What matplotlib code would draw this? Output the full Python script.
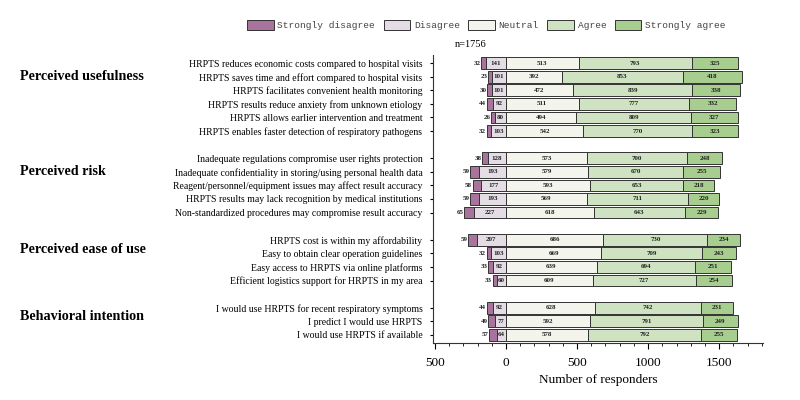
import numpy as np
import matplotlib
matplotlib.use("Agg")
from matplotlib import pyplot as plt
from matplotlib.ticker import MultipleLocator, FuncFormatter
from matplotlib.transforms import blended_transform_factory

# survey categories
groups = ["Perceived usefulness", "Perceived risk", "Perceived ease of use", "Behavioral intention"]
items = [
    ["HRPTS reduces economic costs compared to hospital visits",
     "HRPTS saves time and effort compared to hospital visits",
     "HRPTS facilitates convenient health monitoring",
     "HRPTS results reduce anxiety from unknown etiology",
     "HRPTS allows earlier intervention and treatment",
     "HRPTS enables faster detection of respiratory pathogens"],
    ["Inadequate regulations compromise user rights protection",
     "Inadequate confidentiality in storing/using personal health data",
     "Reagent/personnel/equipment issues may affect result accuracy",
     "HRPTS results may lack recognition by medical institutions",
     "Non-standardized procedures may compromise result accuracy"],
    ["HRPTS cost is within my affordability",
     "Easy to obtain clear operation guidelines",
     "Easy access to HRPTS via online platforms",
     "Efficient logistics support for HRPTS in my area"],
    ["I would use HRPTS for recent respiratory symptoms",
     "I predict I would use HRPTS",
     "I would use HRPTS if available"],
]
levels = ["Strongly disagree", "Disagree", "Neutral", "Agree", "Strongly agree"]

strongly_disagree = [32, 23, 30, 44, 26, 32, 38, 59, 58, 59, 65, 59, 32, 33, 33, 44, 49, 57]
disagree = [141, 101, 101, 92, 80, 103, 128, 193, 177, 193, 227, 207, 103, 92, 60, 92, 77, 64]
neutral = [513, 392, 472, 511, 494, 542, 573, 579, 593, 569, 618, 686, 669, 639, 609, 628, 592, 578]
agree = [793, 853, 839, 777, 809, 770, 700, 670, 653, 711, 643, 730, 709, 694, 727, 742, 791, 792]
strongly_agree = [325, 418, 338, 332, 327, 323, 248, 255, 218, 220, 229, 234, 243, 251, 254, 231, 249, 255]

colors = ["#a8749e", "#e4dde6", "#f3f5ec", "#cfe3c2", "#a7cd8f"]
serif = "Liberation Serif"

# row positions with a blank slot between groups
ypos = []
group_start = []
y = 0
for g in items:
    group_start.append(y)
    for _ in g:
        ypos.append(y)
        y += 1
    y += 1
ypos = np.array(ypos)
labels = [t for g in items for t in g]

sd = np.array(strongly_disagree)
d = np.array(disagree)
n = np.array(neutral)
a = np.array(agree)
sa = np.array(strongly_agree)

fig = plt.figure(figsize=(8, 4), dpi=100)
ax = fig.add_axes([0.541, 0.1425, 0.413, 0.72])

h = 0.86
ekw = dict(edgecolor="#333333", linewidth=0.7)
b_sd = ax.barh(ypos, sd, left=-(d + sd), height=h, color=colors[0], label=levels[0], **ekw)
b_d = ax.barh(ypos, d, left=-d, height=h, color=colors[1], label=levels[1], **ekw)
b_n = ax.barh(ypos, n, left=0, height=h, color=colors[2], label=levels[2], **ekw)
b_a = ax.barh(ypos, a, left=n, height=h, color=colors[3], label=levels[3], **ekw)
b_sa = ax.barh(ypos, sa, left=n + a, height=h, color=colors[4], label=levels[4], **ekw)

tkw = dict(fontsize=5, fontweight="bold", family=serif, va="center", color="#222222")
for i, yy in enumerate(ypos):
    ax.text(-(d[i] + sd[i]) - 4, yy, str(sd[i]), ha="right", **tkw)
    ax.text(-d[i] / 2, yy, str(d[i]), ha="center", **tkw)
    ax.text(n[i] / 2, yy, str(n[i]), ha="center", **tkw)
    ax.text(n[i] + a[i] / 2, yy, str(a[i]), ha="center", **tkw)
    ax.text(n[i] + a[i] + sa[i] / 2, yy, str(sa[i]), ha="center", **tkw)

ax.set_xlim(-515, 1810)
ax.set_ylim(ypos.max() + 0.6, -0.6)
ax.xaxis.set_major_locator(MultipleLocator(500))
ax.xaxis.set_minor_locator(MultipleLocator(100))
ax.xaxis.set_major_formatter(FuncFormatter(lambda v, p: f"{abs(v):.0f}"))
ax.tick_params(axis="x", which="major", length=4, labelsize=9.5, pad=6)
ax.tick_params(axis="x", which="minor", length=2.5)
for lab in ax.get_xticklabels():
    lab.set_family(serif)
ax.set_xlabel("Number of responders", fontsize=9.5, family=serif, labelpad=4)

ax.set_yticks(ypos)
ax.set_yticklabels(labels, fontsize=7.0, family=serif)
ax.tick_params(axis="y", length=2.5, pad=5)
ax.spines["top"].set_visible(False)
ax.spines["right"].set_visible(False)
for s in ["left", "bottom"]:
    ax.spines[s].set_color("#333333")

# group headers, x in figure coords, y in data coords
htrans = blended_transform_factory(fig.transFigure, ax.transData)
offsets = [1.0, 1.0, 0.75, 0.65]
for gname, gs, off in zip(groups, group_start, offsets):
    ax.text(0.025, gs + off, gname, transform=htrans, fontsize=10.2,
            fontweight="bold", family=serif, va="center", ha="left")

ax.text(-250, -1.4, "n=1756", fontsize=7.5, family=serif, ha="center", va="center")

fig.legend(handles=[b_sd, b_d, b_n, b_a, b_sa], loc="center", bbox_to_anchor=(0.608, 0.937),
           ncol=5, frameon=False, prop={"family": "Liberation Mono", "size": 6.8},
           labelcolor="#444444", handlelength=2.8, handleheight=1.3,
           columnspacing=0.9, handletextpad=0.4)

fig.savefig("out.png", dpi=100)
